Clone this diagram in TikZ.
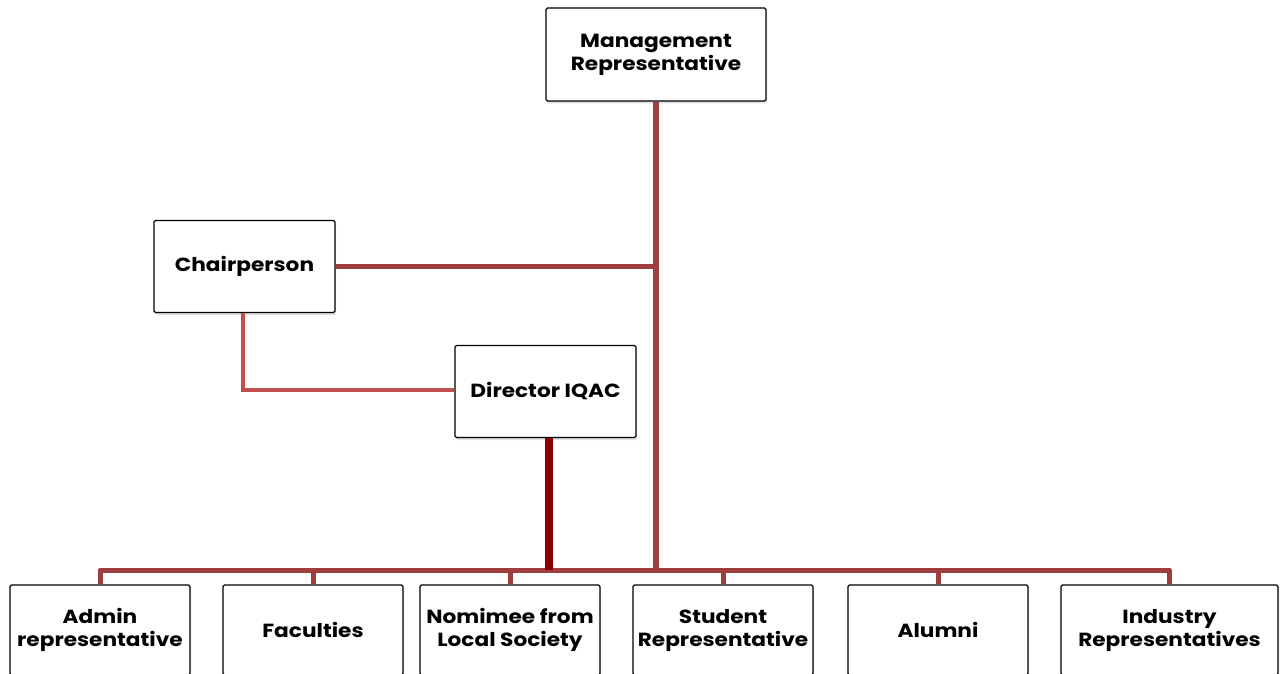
\documentclass[tikz,border=0pt]{standalone}
\usepackage{fontspec}
\setmainfont{Poppins}[FakeStretch=1.14]
\usetikzlibrary{shadows}
\definecolor{busred}{RGB}{158,62,62}
\definecolor{darkred}{RGB}{139,0,0}
\definecolor{lightred}{RGB}{192,80,77}
\begin{document}
\begin{tikzpicture}[x=1pt,y=-1pt,
  box/.style={draw=black, line width=1.3pt, fill=white, rounded corners=1.5pt,
    inner sep=2pt, align=center, font=\bfseries\fontsize{19}{23}\selectfont,
    drop shadow={shadow xshift=1pt, shadow yshift=-2.5pt, opacity=0.25}},
  upbox/.style={box, minimum width=220pt, minimum height=93pt},
  midbox/.style={box, minimum width=181pt, minimum height=92pt},
  lowbox/.style={box, minimum width=180pt, minimum height=90pt},
  busline/.style={draw=busred, line width=5pt, line join=round},
  mainline/.style={draw=busred, line width=6pt},
  dirline/.style={draw=darkred, line width=8pt},
  lightline/.style={draw=lightred, line width=4pt, line join=miter}
]
\useasboundingbox (0,0) rectangle (1282,674);
\node[upbox] (mgmt) at (656,54.5) {Management\\Representative};
\node[midbox] (chair) at (244.5,266.5) {Chairperson};
\node[midbox] (dir) at (545.5,391.5) {Director IQAC};
\node[lowbox] (admin) at (100,630) {Admin\\representative};
\node[lowbox] (fac) at (313,630) {Faculties};
\node[lowbox] (nom) at (510,630) {Nomimee from\\Local Society};
\node[lowbox] (stu) at (723,630) {Student\\Representative};
\node[lowbox] (alu) at (938,630) {Alumni};
\node[lowbox, minimum width=217pt] (ind) at (1169.5,630) {Industry\\Representatives};
\coordinate (bus) at (656,570);
% bus
\draw[busline] (admin.north) -- (admin.north |- bus) -- (ind.north |- bus) -- (ind.north);
\foreach \n in {fac,nom,stu,alu}
  \draw[busline] (\n.north) -- (\n.north |- bus);
% verticals
\draw[mainline] (mgmt.south) -- (bus);
\draw[dirline] ([xshift=3.5pt]dir.south) -- ([xshift=3.5pt]dir.south |- bus);
% chairperson links
\draw[busline] (chair.east) -- (chair.east -| mgmt.south);
\draw[lightline] ([xshift=-1.5pt]chair.south) |- ([yshift=1.5pt]dir.west);
\end{tikzpicture}
\end{document}
